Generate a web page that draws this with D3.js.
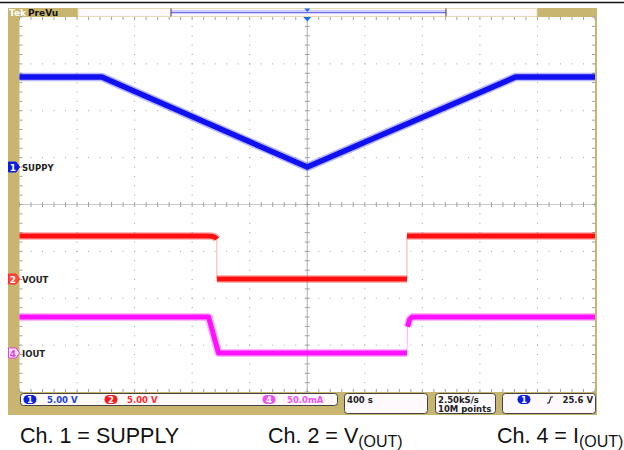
<!DOCTYPE html>
<html>
<head>
<meta charset="utf-8">
<script src="https://cdn.jsdelivr.net/npm/d3@7"></script>
<style>
  body { margin: 0; background: #fff; }
  svg { display: block; }
</style>
</head>
<body>
<div id="chart"></div>
<script>
// DATA (time in s, ch1/ch2 in V, ch4 in mA, relative to each channel's ground marker)
const supplyTime = [0, 572, 2000, 3448, 4000];
const supplyVolts = [9.6, 9.6, 0, 9.6, 9.6];

const voutTime = [0, 1290, 1340, 1365, 1372, 1372, 2693, 2693, 4000];
const voutVolts = [4.6, 4.6, 4.55, 4.4, 4.25, 0, 0, 4.6, 4.6];

const ioutTime = [0, 1314, 1383, 2693, 2697, 2712, 2730, 4000];
const ioutMilliamps = [38.5, 38.5, 0, 0, 28, 36, 38.5, 38.5];

const channelNames = ["SUPPY", "VOUT", "IOUT"];
const channelScales = ["5.00 V", "5.00 V", "50.0mA"];
const timeBase = "400 s";
const sampleInfo = ["2.50kS/s", "10M points"];
const triggerLevel = "25.6 V";
const captions = [
  { main: "Ch. 1 = SUPPLY", sub: "" },
  { main: "Ch. 2 = V", sub: "(OUT)" },
  { main: "Ch. 4 = I", sub: "(OUT)" }
];

// LAYOUT
const W = 624, H = 450;
const plot = { left: 19.5, right: 595, top: 17, bottom: 392 };
const tan = "#c8b570";
const gridColor = "#a0a0a0";
const scopeFont = "DejaVu Sans, Verdana, sans-serif";

const svg = d3.select("#chart").append("svg").attr("width", W).attr("height", H);

// top rule
svg.append("line").attr("x1", 0).attr("x2", W).attr("y1", 2.5).attr("y2", 2.5)
  .attr("stroke", "#111").attr("stroke-width", 1.5);

// scope bezel
svg.append("rect").attr("x", 8).attr("y", 8).attr("width", 589).attr("height", 407).attr("fill", tan);
svg.append("rect").attr("x", plot.left).attr("y", plot.top)
  .attr("width", plot.right - plot.left).attr("height", plot.bottom - plot.top)
  .attr("fill", "#fff");

// SCALES
const x = d3.scaleLinear().domain([0, 4000]).range([plot.left, plot.right]);
const gx = d3.scaleLinear().domain([0, 10]).range([plot.left, plot.right]);
const gy = d3.scaleLinear().domain([-4, 4]).range([plot.bottom, plot.top]);
const divPx = gy(0) - gy(1);

const y1 = d3.scaleLinear().domain([0, 5]).range([167, 167 - divPx]);
const y2 = d3.scaleLinear().domain([0, 5]).range([279, 279 - divPx]);
const y4 = d3.scaleLinear().domain([0, 50]).range([353, 353 - divPx]);

// GRID
const grid = svg.append("g");
const minorX = d3.range(0, 10.001, 0.2);
const minorY = d3.range(-4, 4.001, 0.2);
// dotted major lines
d3.range(1, 10).filter(d => d !== 5).forEach(k => {
  grid.selectAll(null).data(minorY).join("rect")
    .attr("x", gx(k) - 0.5).attr("y", d => gy(d) - 0.5)
    .attr("width", 1).attr("height", 1).attr("fill", gridColor);
});
d3.range(-3, 4).filter(d => d !== 0).forEach(k => {
  grid.selectAll(null).data(minorX).join("rect")
    .attr("x", d => gx(d) - 0.5).attr("y", gy(k) - 0.5)
    .attr("width", 1).attr("height", 1).attr("fill", gridColor);
});
// centre axes with ticks
grid.append("line").attr("x1", plot.left).attr("x2", plot.right)
  .attr("y1", gy(0)).attr("y2", gy(0)).attr("stroke", "#c8c8c8");
grid.append("line").attr("x1", gx(5)).attr("x2", gx(5))
  .attr("y1", plot.top).attr("y2", plot.bottom).attr("stroke", "#b0b0b0");
grid.selectAll(null).data(minorX).join("line")
  .attr("x1", d => gx(d)).attr("x2", d => gx(d))
  .attr("y1", gy(0) - 2.5).attr("y2", gy(0) + 2.5).attr("stroke", gridColor);
grid.selectAll(null).data(minorY).join("line")
  .attr("x1", gx(5) - 2.5).attr("x2", gx(5) + 2.5)
  .attr("y1", d => gy(d)).attr("y2", d => gy(d)).attr("stroke", gridColor);
// edge ticks
grid.selectAll(null).data(minorX).join("line")
  .attr("x1", d => gx(d)).attr("x2", d => gx(d))
  .attr("y1", plot.top).attr("y2", plot.top + 3).attr("stroke", gridColor);
grid.selectAll(null).data(minorX).join("line")
  .attr("x1", d => gx(d)).attr("x2", d => gx(d))
  .attr("y1", plot.bottom - 3).attr("y2", plot.bottom).attr("stroke", gridColor);
grid.selectAll(null).data(minorY).join("line")
  .attr("x1", plot.left).attr("x2", plot.left + 3)
  .attr("y1", d => gy(d)).attr("y2", d => gy(d)).attr("stroke", gridColor);
grid.selectAll(null).data(minorY).join("line")
  .attr("x1", plot.right - 3).attr("x2", plot.right)
  .attr("y1", d => gy(d)).attr("y2", d => gy(d)).attr("stroke", gridColor);

// TRACES
// fast edges (near-vertical) get drawn as a faint thin line, like the scope does
function trace(times, vals, yScale, color, w) {
  const pts = times.map((t, i) => [x(t), yScale(vals[i])]);
  const runs = [[pts[0]]];
  const edges = [];
  for (let i = 1; i < pts.length; i++) {
    const a = pts[i - 1], b = pts[i];
    if (Math.abs(b[0] - a[0]) < 1.5 && Math.abs(b[1] - a[1]) > 8) {
      edges.push([a, b]);
      runs.push([b]);
    } else {
      runs[runs.length - 1].push(b);
    }
  }
  const line = d3.line();
  const g = svg.append("g");
  g.selectAll(null).data(edges).join("path").attr("d", line).attr("fill", "none")
    .attr("stroke", color).attr("stroke-opacity", 0.35).attr("stroke-width", 1);
  const good = runs.filter(r => r.length > 1);
  g.selectAll(null).data(good).join("path").attr("d", line).attr("fill", "none")
    .attr("stroke", color).attr("stroke-opacity", 0.3).attr("stroke-width", w + 3)
    .attr("stroke-linejoin", "round");
  g.selectAll(null).data(good).join("path").attr("d", line).attr("fill", "none")
    .attr("stroke", color).attr("stroke-width", w).attr("stroke-linejoin", "round");
}
trace(voutTime, voutVolts, y2, "#ff1010", 5);
trace(ioutTime, ioutMilliamps, y4, "#ff10ff", 5);
trace(supplyTime, supplyVolts, y1, "#1010f0", 5.5);

// CHANNEL MARKERS
function marker(yPos, num, fill, stroke, textColor) {
  const g = svg.append("g").attr("transform", `translate(8,${yPos})`);
  g.append("path").attr("d", "M0.5,-5 H8 L11.5,0 L8,5 H0.5 Z")
    .attr("fill", fill).attr("stroke", stroke).attr("stroke-width", 1);
  g.append("text").attr("x", 5).attr("y", 3.5).attr("text-anchor", "middle")
    .attr("font-family", scopeFont).attr("font-size", 9).attr("font-weight", "bold")
    .attr("fill", textColor).text(num);
}
marker(y1(0), "1", "#0a1ee0", "#0a1ee0", "#fff");
marker(y2(0), "2", "#ff4a3a", "#ff2a2a", "#fff");
marker(y4(0), "4", "#ffe8ff", "#e040e0", "#e040e0");

svg.selectAll(".chname").data(channelNames).join("text")
  .attr("x", 22).attr("y", (d, i) => [y1, y2, y4][i](0) + 3.5)
  .attr("font-family", scopeFont).attr("font-size", 8.5).attr("font-weight", "bold")
  .attr("fill", "#222").text(d => d);

// TOP BAR
svg.append("text").attr("x", 9).attr("y", 15.5).attr("font-family", scopeFont)
  .attr("font-size", 9).attr("font-weight", "bold").attr("fill", "#fff").text("Tek");
svg.append("text").attr("x", 28).attr("y", 15.5).attr("font-family", scopeFont)
  .attr("font-size", 9).attr("font-weight", "bold").attr("fill", "#111").text("PreVu");
svg.append("rect").attr("x", 78).attr("y", 8.5).attr("width", 459).attr("height", 8)
  .attr("fill", "#fdf8fd").attr("stroke", "#e6dcb4").attr("stroke-width", 1);
svg.append("line").attr("x1", 171).attr("x2", 446).attr("y1", 10.5).attr("y2", 10.5)
  .attr("stroke", "#c8c8ff").attr("stroke-width", 1);
svg.append("line").attr("x1", 171).attr("x2", 446).attr("y1", 12.5).attr("y2", 12.5)
  .attr("stroke", "#6a6af0").attr("stroke-width", 1.5);
[171, 446].forEach(xx => svg.append("line").attr("x1", xx).attr("x2", xx)
  .attr("y1", 8.5).attr("y2", 16.5).attr("stroke", "#555").attr("stroke-width", 1.2));
svg.append("path").attr("d", `M${x(2000) - 3},8.5 H${x(2000) + 3} L${x(2000)},12 Z`).attr("fill", "#1a6cf0");
svg.append("path").attr("d", `M${x(2000) - 4},17 H${x(2000) + 4} L${x(2000)},21.5 Z`).attr("fill", "#1a6cf0");

// BOTTOM READOUTS
const boxStroke = "#444", boxFill = "#fdf9fd";
function box(x0, y0, w, h) {
  svg.append("rect").attr("x", x0).attr("y", y0).attr("width", w).attr("height", h)
    .attr("rx", 3).attr("fill", boxFill).attr("stroke", boxStroke).attr("stroke-width", 1);
}
function pill(cx, cy, num, color) {
  svg.append("rect").attr("x", cx - 6.5).attr("y", cy - 4.5).attr("width", 13).attr("height", 9)
    .attr("rx", 4.5).attr("fill", color);
  svg.append("text").attr("x", cx).attr("y", cy + 3.3).attr("text-anchor", "middle")
    .attr("font-family", scopeFont).attr("font-size", 8.5).attr("font-weight", "bold")
    .attr("fill", "#fff").text(num);
}
function readout(tx, ty, str, color, anchor) {
  svg.append("text").attr("x", tx).attr("y", ty).attr("font-family", scopeFont)
    .attr("text-anchor", anchor || "start")
    .attr("font-size", 8.5).attr("font-weight", "bold").attr("fill", color).text(str);
}
box(20.5, 393.5, 317, 12);
pill(30, 399.5, "1", "#0a1ee0");
readout(47, 402.5, channelScales[0], "#2040e0");
pill(111, 399.5, "2", "#ff1a1a");
readout(127, 402.5, channelScales[1], "#ff2a2a");
pill(269, 399.5, "4", "#f050f0");
readout(287, 402.5, channelScales[2], "#f050f0");

box(344.5, 393.5, 83, 20);
readout(347, 402.5, timeBase, "#222");
box(435.5, 393.5, 60, 20);
readout(438, 402.5, sampleInfo[0], "#222");
readout(438, 411.5, sampleInfo[1], "#222");
box(502.5, 393.5, 93, 20);
pill(524, 399.5, "1", "#0a1ee0");
svg.append("path").attr("d", "M547,403 H549 L551,397 H553").attr("fill", "none")
  .attr("stroke", "#222").attr("stroke-width", 1.2);
readout(593, 402.5, triggerLevel, "#222", "end");

// CAPTIONS
const capX = [20, 268, 497];
captions.forEach((c, i) => {
  const t = svg.append("text").attr("x", capX[i]).attr("y", 443)
    .attr("font-family", "Liberation Sans, Arial, sans-serif").attr("font-size", 21.5).attr("fill", "#111");
  t.append("tspan").text(c.main);
  if (c.sub) t.append("tspan").attr("dy", 4).attr("font-size", 16).text(c.sub);
});
</script>
</body>
</html>
